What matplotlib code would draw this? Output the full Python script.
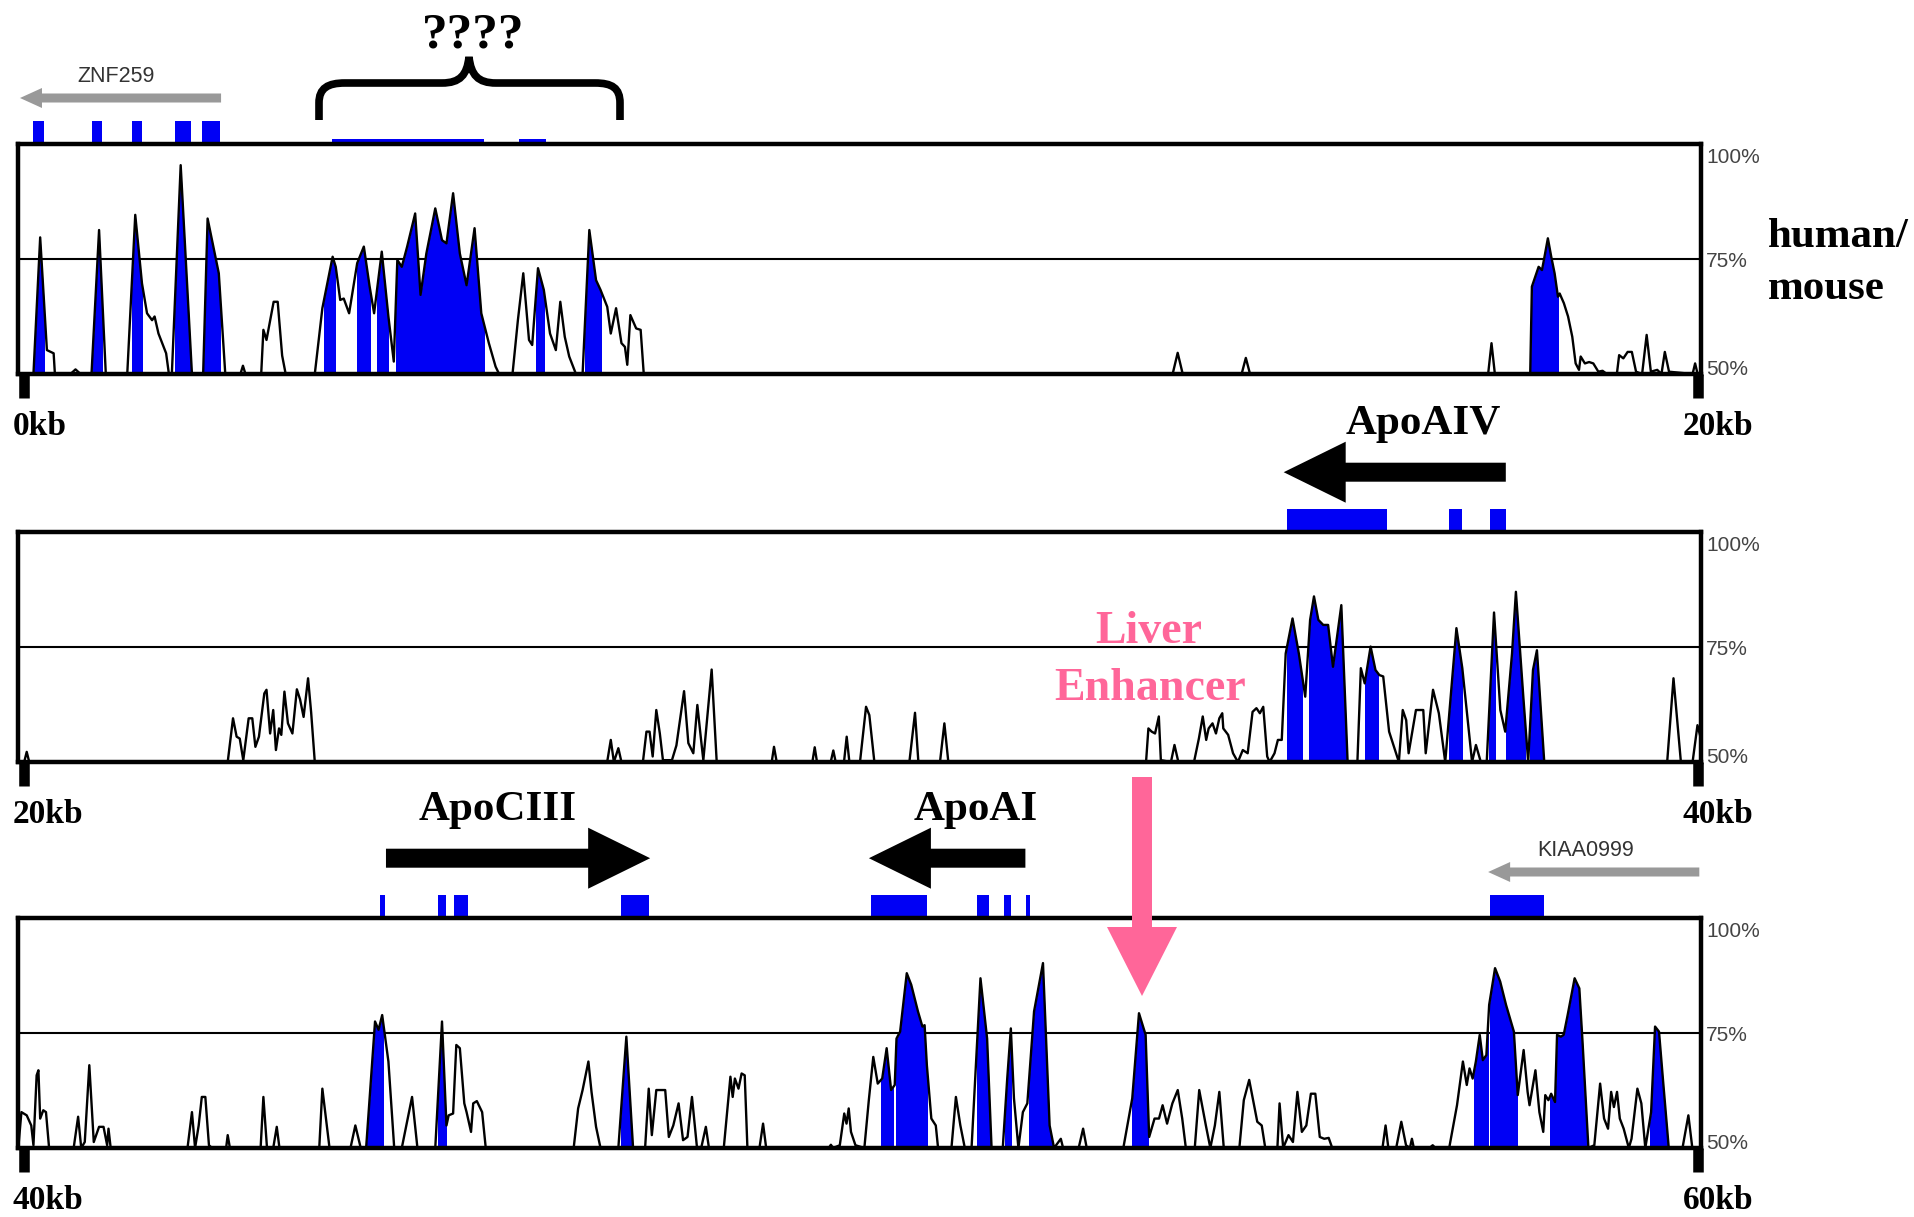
import numpy as np
import matplotlib
matplotlib.use("Agg")
import matplotlib.pyplot as plt
from matplotlib.patches import Rectangle, Polygon, PathPatch
from matplotlib.path import Path
from matplotlib.transforms import blended_transform_factory

# human/mouse conservation profile, (kb, % identity)
curve1 = [
    (0.0, 50), (0.18, 50), (0.26, 79.7), (0.34, 55.2), (0.42, 54.5), (0.435, 50),
    (0.62, 50), (0.68, 51), (0.74, 50),
    (0.87, 50), (0.96, 81.3), (1.04, 50),
    (1.295, 50), (1.39, 84.6), (1.47, 69.7), (1.53, 63.2), (1.59, 61.7), (1.62, 62.5),
    (1.666, 58.8), (1.757, 54.5), (1.79, 50),
    (1.825, 50), (1.93, 95.4), (2.064, 50),
    (2.197, 50), (2.25, 83.8), (2.383, 71.9), (2.46, 50),
    (2.64, 50), (2.67, 51.8), (2.70, 50),
    (2.887, 50), (2.913, 59.6), (2.95, 57.4), (3.035, 65.7), (3.083, 65.7), (3.136, 54), (3.178, 50),
    (3.524, 50), (3.614, 64.3), (3.736, 75.5), (3.773, 73.3), (3.826, 66.1), (3.868, 66.4),
    (3.932, 63.2), (4.028, 74.1), (4.107, 77.7), (4.176, 69.0), (4.229, 63.2), (4.32, 76.6),
    (4.399, 62.5), (4.463, 52.7), (4.505, 74.8), (4.558, 73.3), (4.622, 77.7), (4.717, 84.9),
    (4.781, 67.2), (4.85, 76.2), (4.956, 86.0), (5.036, 79.1), (5.089, 78.4), (5.168, 89.3),
    (5.248, 76.2), (5.328, 69.3), (5.423, 81.7), (5.503, 63.2), (5.593, 56.7), (5.673, 51.6), (5.715, 50),
    (5.874, 50), (5.938, 61.7), (6.002, 71.9), (6.07, 57.4), (6.108, 56.3), (6.177, 73.0),
    (6.246, 68.3), (6.32, 58.8), (6.389, 55.2), (6.442, 65.7), (6.495, 58.1), (6.548, 53.8), (6.628, 50),
    (6.707, 50), (6.787, 81.3), (6.867, 70.4), (6.92, 68.3), (7.0, 64.6), (7.042, 58.8),
    (7.105, 64.3), (7.169, 56.7), (7.21, 55.9), (7.238, 52.0), (7.275, 62.8), (7.344, 59.9),
    (7.397, 59.6), (7.434, 50),
    (13.72, 50), (13.78, 54.6), (13.84, 50),
    (14.54, 50), (14.59, 53.5), (14.64, 50),
    (17.47, 50), (17.51, 56.7), (17.55, 50),
    (17.97, 50), (17.99, 69.0), (18.07, 73.3), (18.11, 72.6), (18.14, 75.5), (18.18, 79.5),
    (18.22, 75.5), (18.26, 71.9), (18.30, 66.8), (18.32, 67.5), (18.37, 65.4), (18.42, 62.5),
    (18.47, 58.1), (18.51, 52.3), (18.55, 50.9), (18.57, 53.8), (18.62, 52.3), (18.67, 52.6),
    (18.72, 52.3), (18.78, 50.5), (18.83, 50.7), (18.88, 50),
    (19.0, 50), (19.027, 54.1), (19.077, 53.4), (19.128, 54.8), (19.178, 54.8), (19.228, 50.5),
    (19.30, 50), (19.354, 58.5), (19.404, 50.5), (19.48, 50.9), (19.53, 50), (19.57, 54.8),
    (19.62, 50.5), (19.9, 50), (19.93, 52.3), (19.96, 50), (20.0, 50),
]

curve2 = [
    (20.0, 50), (20.07, 50), (20.1, 52.2), (20.13, 50),
    (22.489, 50), (22.552, 59.5), (22.595, 55.5), (22.632, 55.1), (22.674, 50.4), (22.738, 59.5),
    (22.781, 59.5), (22.818, 53.3), (22.86, 55.5), (22.924, 64.9), (22.95, 65.7), (22.993, 56.2),
    (23.03, 61.3), (23.062, 52.6), (23.099, 57.3), (23.126, 55.9), (23.163, 65.3), (23.205, 58.4),
    (23.258, 56.2), (23.311, 65.8), (23.349, 63.6), (23.391, 59.8), (23.444, 68.2), (23.481, 60.7),
    (23.524, 50),
    (26.999, 50), (27.042, 54.8), (27.079, 50), (27.132, 53.0), (27.169, 50),
    (27.424, 50), (27.466, 56.6), (27.503, 56.6), (27.54, 51.2), (27.583, 61.3), (27.625, 56.2),
    (27.662, 50.4), (27.769, 50.4), (27.822, 53.6), (27.913, 65.4), (27.964, 54.1), (28.004, 52.6),
    (28.023, 51.9), (28.071, 62.4), (28.111, 55.5), (28.142, 50.4), (28.19, 59.9), (28.241, 70.1),
    (28.301, 50),
    (28.955, 50), (28.982, 53.3), (29.014, 50),
    (29.438, 50), (29.466, 53.2), (29.493, 50),
    (29.656, 50), (29.687, 52.5), (29.715, 50),
    (29.814, 50), (29.846, 55.5), (29.878, 50),
    (30.004, 50), (30.076, 62.0), (30.115, 60.2), (30.175, 50),
    (30.591, 50), (30.658, 60.7), (30.698, 50),
    (30.955, 50), (31.007, 58.4), (31.054, 50),
    (33.404, 50), (33.432, 57.3), (33.471, 56.6), (33.511, 56.2), (33.556, 59.9), (33.58, 50.4),
    (33.70, 50), (33.742, 53.7), (33.788, 50), (33.974, 50), (34.032, 55.1), (34.078, 59.9),
    (34.119, 54.8), (34.148, 57.3), (34.194, 58.4), (34.235, 56.2), (34.275, 59.5), (34.31, 60.6),
    (34.322, 57.3), (34.38, 55.9), (34.438, 51.9), (34.496, 50), (34.554, 52.6), (34.612, 51.9),
    (34.67, 60.9), (34.716, 61.7), (34.757, 60.6), (34.797, 62.0), (34.844, 51.2), (34.873, 50),
    (34.931, 51.9), (34.971, 54.8), (35.017, 54.8), (35.064, 73.6), (35.145, 81.2), (35.22, 73.6),
    (35.296, 64.2), (35.354, 80.9), (35.4, 86.0), (35.452, 80.9), (35.51, 79.8), (35.568, 79.8),
    (35.626, 70.7), (35.725, 84.1), (35.80, 50), (35.916, 50), (35.957, 70.4), (36.003, 67.1),
    (36.073, 75.1), (36.131, 70.0), (36.177, 68.9), (36.223, 68.6), (36.293, 56.6), (36.409, 50),
    (36.455, 61.3), (36.496, 59.1), (36.525, 51.9), (36.612, 61.3), (36.699, 61.3), (36.728, 51.9),
    (36.815, 65.7), (36.884, 60.6), (36.96, 50), (37.093, 79.1), (37.163, 70.4), (37.279, 50),
    (37.325, 53.7), (37.383, 50), (37.453, 50), (37.54, 82.5), (37.615, 61.3), (37.673, 56.6),
    (37.754, 73.6), (37.8, 87.0), (37.888, 64.2), (37.946, 50), (38.003, 70.0), (38.05, 74.3),
    (38.137, 50), (39.598, 50), (39.673, 68.2), (39.761, 50), (39.9, 50), (39.958, 58.0), (40.0, 55),
]

curve3 = [
    (40.0, 50), (40.037, 57.8), (40.1, 57.1), (40.154, 54.9), (40.18, 50.6), (40.218, 65.8),
    (40.239, 66.9), (40.26, 56.4), (40.297, 58.2), (40.329, 57.8), (40.366, 50),
    (40.658, 50), (40.711, 56.8), (40.748, 50), (40.79, 51.3), (40.844, 68.0), (40.897, 51.3),
    (40.96, 54.6), (41.013, 54.6), (41.056, 50.6), (41.072, 54.2), (41.098, 50),
    (42.011, 50), (42.064, 57.8), (42.101, 50), (42.144, 54.9), (42.181, 61.1), (42.223, 61.1),
    (42.266, 50.6), (42.303, 50),
    (42.47, 50), (42.489, 52.8), (42.515, 50),
    (42.88, 50), (42.913, 61.1), (42.956, 50),
    (43.03, 50), (43.072, 54.6), (43.104, 50),
    (43.577, 50), (43.614, 62.9), (43.699, 50),
    (43.948, 50), (44.006, 54.9), (44.07, 50),
    (44.134, 50), (44.24, 77.5), (44.282, 75.7), (44.325, 78.9), (44.399, 68.8), (44.468, 50),
    (44.558, 50), (44.68, 61.1), (44.744, 50),
    (44.956, 50), (45.036, 77.5), (45.089, 54.9), (45.115, 57.1), (45.168, 57.5), (45.206, 72.4),
    (45.248, 71.7), (45.301, 59.7), (45.328, 57.8), (45.381, 53.5), (45.407, 59.7), (45.45, 60.2),
    (45.513, 57.8), (45.556, 50),
    (46.601, 50), (46.654, 58.6), (46.707, 62.6), (46.776, 68.8), (46.813, 62.2), (46.867, 54.6), (46.92, 50),
    (47.132, 50), (47.227, 74.2), (47.307, 50),
    (47.45, 50), (47.493, 62.9), (47.53, 52.8), (47.583, 62.6), (47.689, 62.6), (47.732, 52.4),
    (47.785, 54.9), (47.848, 59.7), (47.901, 51.7), (47.954, 52.4), (48.007, 61.1), (48.066, 50.2),
    (48.119, 50.2), (48.172, 54.6), (48.209, 50),
    (48.385, 50), (48.464, 65.5), (48.491, 61.1), (48.517, 65.1), (48.56, 62.9), (48.597, 66.2),
    (48.634, 65.8), (48.666, 50),
    (48.809, 50), (48.852, 55.3), (48.889, 50),
    (49.632, 50), (49.658, 50.7), (49.685, 50), (49.764, 50.6), (49.817, 57.5), (49.844, 55.3),
    (49.87, 58.6), (49.897, 53.5), (49.95, 50.6), (50.056, 50),
    (50.109, 60.4), (50.162, 69.8), (50.215, 64.0), (50.268, 65.1), (50.321, 71.7), (50.374, 62.6),
    (50.417, 63.7), (50.438, 73.8), (50.481, 75.3), (50.56, 88.0), (50.613, 85.5), (50.693, 79.7),
    (50.746, 76.4), (50.772, 76.7), (50.799, 68.0), (50.852, 56.4), (50.905, 54.9), (50.932, 50),
    (51.091, 50), (51.144, 61.1), (51.197, 54.9), (51.25, 50),
    (51.33, 50), (51.436, 86.9), (51.515, 73.8), (51.568, 50),
    (51.701, 50), (51.754, 65.1), (51.797, 76.0), (51.834, 60.8), (51.887, 50), (51.94, 57.8),
    (51.993, 59.7), (52.073, 79.7), (52.179, 90.2), (52.258, 54.9), (52.311, 50),
    (52.391, 52.0), (52.418, 50),
    (52.603, 50), (52.656, 54.2), (52.699, 50),
    (53.134, 50), (53.24, 60.8), (53.32, 79.3), (53.399, 74.6), (53.441, 52.4), (53.505, 56.4),
    (53.558, 56.4), (53.601, 59.3), (53.654, 55.3), (53.717, 59.7), (53.781, 62.6), (53.834, 56.4),
    (53.877, 50),
    (53.983, 50), (54.036, 62.6), (54.115, 54.9), (54.168, 50), (54.222, 54.9), (54.275, 62.2), (54.328, 50),
    (54.513, 50), (54.566, 60.4), (54.63, 64.8), (54.726, 55.7), (54.779, 54.9), (54.821, 50),
    (54.965, 50), (54.991, 59.7), (55.034, 50), (55.097, 52.8), (55.15, 51.3), (55.203, 62.2),
    (55.256, 53.5), (55.309, 54.9), (55.363, 61.8), (55.416, 61.8), (55.469, 52.4), (55.522, 52.0),
    (55.575, 52.2), (55.617, 50),
    (56.214, 50), (56.251, 54.9), (56.284, 50),
    (56.377, 50), (56.438, 55.7), (56.494, 50.6), (56.54, 50), (56.564, 52.0), (56.587, 50),
    (56.773, 50), (56.811, 50.6), (56.843, 50),
    (57.007, 50), (57.1, 59.3), (57.17, 68.8), (57.216, 63.7), (57.249, 67.3), (57.286, 65.1),
    (57.324, 68.8), (57.37, 74.6), (57.407, 69.1), (57.449, 70.2), (57.482, 81.1), (57.552, 89.1),
    (57.613, 86.2), (57.683, 81.1), (57.776, 75.3), (57.822, 61.5), (57.892, 71.3), (57.939, 62.2),
    (57.962, 59.3), (58.032, 66.9), (58.079, 57.8), (58.125, 53.5), (58.149, 61.5), (58.186, 60.4),
    (58.219, 61.8), (58.265, 60.0), (58.289, 74.6), (58.335, 74.2), (58.368, 74.6), (58.415, 78.9),
    (58.498, 86.9), (58.554, 84.7), (58.592, 73.1), (58.662, 50),
    (58.732, 50.6), (58.801, 64.0), (58.848, 56.4), (58.895, 54.2), (58.932, 62.2), (58.965, 58.9),
    (59.002, 62.2), (59.035, 56.4), (59.081, 54.2), (59.142, 50), (59.174, 52.0), (59.244, 62.9),
    (59.291, 59.7), (59.338, 50), (59.407, 57.8), (59.454, 76.4), (59.501, 75.3), (59.547, 65.1),
    (59.617, 50),
    (59.78, 50), (59.85, 57.1), (59.897, 50), (60.0, 50),
]

# conserved regions shaded blue under the curve (kb ranges)
blue1 = [(0.17, 0.31), (0.88, 0.99), (1.35, 1.47), (1.86, 2.05), (2.18, 2.40), (3.63, 3.76),
         (4.03, 4.18), (4.26, 4.40), (4.49, 5.53), (6.15, 6.25), (6.73, 6.92), (17.97, 18.30)]
blue2 = [(35.075, 35.261), (35.336, 35.80), (36.003, 36.166), (37.0, 37.163), (37.482, 37.557),
         (37.685, 37.905), (37.963, 38.12)]
blue3 = [(44.145, 44.335), (44.99, 45.08), (47.16, 47.29), (50.258, 50.401), (50.428, 50.799),
         (51.393, 51.552), (51.727, 51.797), (52.009, 52.311), (53.24, 53.426), (57.30, 57.463),
         (57.496, 57.808), (58.21, 58.648), (59.398, 59.608)]

# exons above each panel (kb ranges)
exons1 = [(0.18, 0.31), (0.88, 0.99), (1.35, 1.47), (1.86, 2.05), (2.18, 2.40)]
exons2 = [(35.075, 36.264), (37.0, 37.163), (37.493, 37.685)]
exons3 = [(44.304, 44.357), (44.99, 45.08), (45.18, 45.34), (47.16, 47.50), (50.135, 50.799),
          (51.393, 51.542), (51.717, 51.797), (51.977, 52.03), (57.496, 58.135)]
utr1 = [(3.73, 5.54), (5.95, 6.27)]

panel_starts = [0, 20, 40]
pct_labels = ["100%", "75%", "50%"]

# big black gene arrows
big_genes = ["ApoAIV", "ApoCIII", "ApoAI"]
big_panel = [1, 2, 2]
big_tail = [37.68, 44.37, 51.97]
big_tip = [35.04, 47.51, 50.11]
big_label_x = [36.70, 45.70, 51.38]

# grey neighbouring gene arrows
small_genes = ["ZNF259", "KIAA0999"]
small_panel = [0, 2]
small_tail = [2.41, 59.98]
small_tip = [0.02, 57.47]
small_label_x = [1.16, 58.63]

BLUE = "#0000f5"
PINK = "#ff6699"
SERIF = "Liberation Serif"
SANS = "Liberation Sans"

W, H = 1915, 1217
fig = plt.figure(figsize=(W / 100, H / 100), dpi=100)

ax_left, ax_right = 18.3, 1701
ax_tops = [144, 532, 918]
ax_h = 230
kx = (ax_right - ax_left) / 20.0   # px per kb
ky = ax_h / 50.0                   # px per % unit

curves = [curve1, curve2, curve3]
blues = [blue1, blue2, blue3]
exons = [exons1, exons2, exons3]
axes = []

for i, s in enumerate(panel_starts):
    top = ax_tops[i]
    ax = fig.add_axes([ax_left / W, (H - top - ax_h) / H, (ax_right - ax_left) / W, ax_h / H])
    axes.append(ax)
    ax.set_xlim(s, s + 20)
    ax.set_ylim(50, 100)
    ax.set_xticks([])
    ax.set_yticks([])
    for sp in ax.spines.values():
        sp.set_linewidth(3.2)
        sp.set_zorder(4)
    ax.axhline(75, color="black", lw=1.5, zorder=1)

    pts = np.array(curves[i])
    x, y = pts[:, 0], pts[:, 1]
    for a, b in blues[i]:
        poly = ax.fill_between(x, y, 50, color=BLUE, lw=0, zorder=2)
        poly.set_clip_path(Rectangle((a, 50), b - a, 50, transform=ax.transData))
    ax.plot(x, y, color="black", lw=1.7, zorder=3)

    for a, b in exons[i]:
        ax.add_patch(Rectangle((a, 100), b - a, 5, facecolor=BLUE, lw=0, clip_on=False, zorder=1))

    # position marks at panel ends
    for xm in (s + 0.07, s + 19.97):
        ax.plot([xm, xm], [50, 50 - 24 / ky], color="black", lw=7.6,
                solid_capstyle="butt", clip_on=False)

    tr = blended_transform_factory(ax.transAxes, ax.transData)
    for lab, yv in zip(pct_labels, [95.9, 73.3, 49.8]):
        ax.text(1.003, yv, lab, transform=tr, ha="left", va="baseline",
                fontsize=15, family=SANS, color="#444444")

for a, b in utr1:
    axes[0].add_patch(Rectangle((a, 100), b - a, 1.0, facecolor=BLUE, lw=0, clip_on=False, zorder=1))


def block_arrow(ax, tail, tip, yc, shaft_px, head_px, head_len_px, color):
    d = np.sign(tip - tail)
    base = tip - d * head_len_px / kx
    sh = shaft_px / 2 / ky
    hh = head_px / 2 / ky
    verts = [(tail, yc - sh), (base, yc - sh), (base, yc - hh), (tip, yc),
             (base, yc + hh), (base, yc + sh), (tail, yc + sh)]
    ax.add_patch(Polygon(verts, closed=True, facecolor=color, edgecolor="none",
                         clip_on=False, zorder=5))


for name, p, t0, t1, lx in zip(big_genes, big_panel, big_tail, big_tip, big_label_x):
    ax = axes[p]
    block_arrow(ax, t0, t1, 113.0, 19, 61, 62, "black")
    ax.text(lx, 121.2, name, ha="center", va="baseline", fontsize=31,
            family=SERIF, weight="bold", color="black", clip_on=False)

for name, p, t0, t1, lx in zip(small_genes, small_panel, small_tail, small_tip, small_label_x):
    ax = axes[p]
    block_arrow(ax, t0, t1, 110.0, 9, 20, 22, "#999999")
    ax.text(lx, 114.6, name, ha="center", va="center", fontsize=15.5,
            family=SANS, color="#333333", clip_on=False)

# overlay in figure pixels for free annotations
ov = fig.add_axes([0, 0, 1, 1])
ov.set_xlim(0, W)
ov.set_ylim(H, 0)
ov.axis("off")
ov.set_zorder(10)

brace = Path(
    [(319, 120), (319, 103), (319, 88), (328, 83), (345, 83), (442, 83),
     (460, 83), (467, 75), (469, 57), (471, 75), (478, 83), (496, 83),
     (595, 83), (612, 83), (620, 88), (620, 103), (620, 120)],
    [Path.MOVETO, Path.LINETO, Path.CURVE4, Path.CURVE4, Path.CURVE4, Path.LINETO,
     Path.CURVE4, Path.CURVE4, Path.CURVE4, Path.CURVE4, Path.CURVE4, Path.CURVE4,
     Path.LINETO, Path.CURVE4, Path.CURVE4, Path.CURVE4, Path.LINETO])
ov.add_patch(PathPatch(brace, facecolor="none", edgecolor="black", lw=5.5, capstyle="butt"))
ov.text(473, 48, "????", ha="center", va="baseline", fontsize=37,
        family=SERIF, weight="bold")

ov.text(1768, 247, "human/", ha="left", va="baseline", fontsize=31, family=SERIF, weight="bold")
ov.text(1768, 299, "mouse", ha="left", va="baseline", fontsize=31, family=SERIF, weight="bold")

ov.text(1149, 643, "Liver", ha="center", va="baseline", fontsize=33,
        family=SERIF, weight="bold", color=PINK)
ov.text(1150, 700, "Enhancer", ha="center", va="baseline", fontsize=33,
        family=SERIF, weight="bold", color=PINK)
ov.add_patch(Polygon([(1132, 777), (1152, 777), (1152, 927), (1177, 927), (1142, 996),
                      (1107, 927), (1132, 927)], closed=True, facecolor=PINK, edgecolor="none"))

for i, s in enumerate(panel_starts):
    yb = ax_tops[i] + ax_h + 61
    ov.text(13, yb, f"{s}kb", ha="left", va="baseline", fontsize=24, family=SERIF, weight="bold")
    ov.text(1718, yb, f"{s + 20}kb", ha="center", va="baseline", fontsize=24,
            family=SERIF, weight="bold")

fig.savefig("out.png", dpi=100)
